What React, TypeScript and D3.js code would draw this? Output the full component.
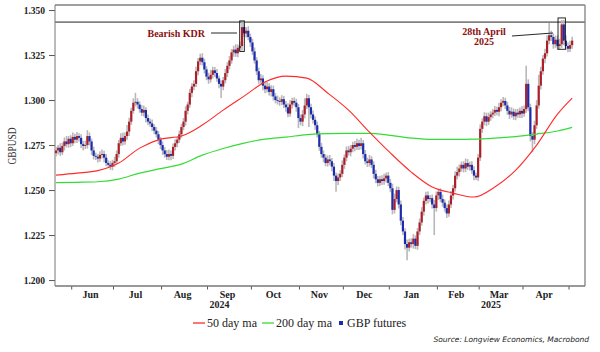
import React, { useEffect, useRef } from 'react';
import * as d3 from 'd3';

// GBP futures, daily (weekdays), 22 May 2024 .. 2 May 2025
const firstDay = '2024-05-22';
const lastDay = '2025-05-02';
const firstOpen = 1.2705;

const closes = [
  1.2720, 1.2735, 1.2710, 1.2745, 1.2770, 1.2755, 1.2785, 1.2760, 1.2795, 1.2780,
  1.2800, 1.2790, 1.2755, 1.2745, 1.2750, 1.2800, 1.2770, 1.2720, 1.2690, 1.2685,
  1.2675, 1.2695, 1.2700, 1.2680, 1.2650, 1.2640, 1.2630, 1.2650, 1.2660, 1.2700,
  1.2760, 1.2790, 1.2770, 1.2800, 1.2825, 1.2880, 1.2940, 1.2985, 1.2990, 1.2975,
  1.2950, 1.2930, 1.2945, 1.2900, 1.2880, 1.2870, 1.2850, 1.2830, 1.2810, 1.2780,
  1.2750, 1.2720, 1.2700, 1.2685, 1.2700, 1.2690, 1.2740, 1.2760, 1.2780, 1.2810,
  1.2850, 1.2880, 1.2940, 1.2975, 1.3040, 1.3075, 1.3090, 1.3160, 1.3215, 1.3235,
  1.3210, 1.3170, 1.3130, 1.3115, 1.3140, 1.3165, 1.3150, 1.3120, 1.3090, 1.3075,
  1.3110, 1.3150, 1.3190, 1.3220, 1.3265, 1.3280, 1.3260, 1.3290, 1.3300, 1.3405,
  1.3370, 1.3385, 1.3350, 1.3320, 1.3270, 1.3220, 1.3160, 1.3110, 1.3120, 1.3080,
  1.3060, 1.3075, 1.3045, 1.3060, 1.3020, 1.3000, 1.2995, 1.2990, 1.3005, 1.2975,
  1.2960, 1.2925, 1.2975, 1.2995, 1.2985, 1.2960, 1.2900, 1.2880, 1.2920, 1.2970,
  1.3010, 1.2960, 1.2920, 1.2890, 1.2860, 1.2810, 1.2740, 1.2700, 1.2680, 1.2650,
  1.2670, 1.2660, 1.2630, 1.2580, 1.2550, 1.2570, 1.2590, 1.2640, 1.2680, 1.2720,
  1.2710, 1.2730, 1.2750, 1.2740, 1.2760, 1.2745, 1.2760, 1.2700, 1.2660, 1.2650,
  1.2670, 1.2640, 1.2590, 1.2560, 1.2540, 1.2560, 1.2550, 1.2565, 1.2580, 1.2540,
  1.2510, 1.2390, 1.2450, 1.2500, 1.2420, 1.2330, 1.2270, 1.2200, 1.2180, 1.2210,
  1.2200, 1.2230, 1.2190, 1.2270, 1.2320, 1.2380, 1.2440, 1.2470, 1.2450, 1.2455,
  1.2420, 1.2400, 1.2470, 1.2490, 1.2450, 1.2430, 1.2400, 1.2370, 1.2420, 1.2470,
  1.2510, 1.2580, 1.2600, 1.2620, 1.2640, 1.2620, 1.2650, 1.2630, 1.2640, 1.2610,
  1.2580, 1.2570, 1.2680, 1.2840, 1.2880, 1.2910, 1.2880, 1.2905, 1.2920, 1.2930,
  1.2945, 1.2935, 1.2960, 1.2985, 1.2995, 1.2970, 1.2940, 1.2920, 1.2935, 1.2910,
  1.2930, 1.2920, 1.2940, 1.2925, 1.2950, 1.3090, 1.2960, 1.2800, 1.2780, 1.2860,
  1.2970, 1.3080, 1.3160, 1.3230, 1.3260, 1.3330, 1.3360, 1.3350, 1.3310, 1.3335,
  1.3300, 1.3310, 1.3420, 1.3330, 1.3300, 1.3285, 1.3305, 1.3330,
];

// shadow above / below the body, in pips
const wickUp = [
  20, 15, 25, 18, 22, 30, 15, 20, 25, 18, 22, 15, 20, 18, 25, 33, 20, 15, 22, 18,
  15, 20, 25, 18, 20, 15, 22, 18, 25, 20, 18, 25, 30, 20, 36, 22, 18, 25, 50, 20,
  18, 22, 25, 15, 20, 18, 22, 15, 20, 18, 15, 20, 18, 22, 25, 20, 18, 22, 15, 20,
  18, 20, 25, 15, 22, 18, 20, 25, 18, 22, 25, 20, 18, 22, 28, 20, 18, 22, 15, 20,
  18, 22, 20, 25, 18, 22, 30, 18, 25, 29, 35, 20, 25, 18, 20, 22, 18, 20, 25, 18,
  20, 25, 18, 22, 20, 18, 25, 20, 22, 18, 20, 22, 25, 18, 20, 22, 18, 20, 25, 40,
  25, 18, 20, 22, 18, 20, 18, 22, 20, 18, 22, 25, 18, 20, 18, 22, 20, 25, 18, 22,
  25, 20, 18, 22, 25, 20, 30, 18, 22, 20, 25, 18, 20, 22, 18, 20, 22, 25, 18, 20,
  22, 25, 30, 20, 18, 22, 20, 18, 25, 20, 22, 25, 18, 20, 22, 25, 18, 20, 22, 18,
  20, 25, 22, 18, 20, 25, 18, 20, 22, 25, 20, 25, 30, 22, 18, 20, 25, 22, 18, 20,
  22, 18, 20, 25, 18, 22, 20, 25, 18, 20, 22, 18, 25, 20, 22, 18, 20, 22, 25, 18,
  20, 22, 18, 25, 20, 100, 25, 20, 22, 25, 30, 60, 25, 20, 25, 30, 68, 25, 20, 22,
  25, 30, 25, 25, 30, 20, 25, 22,
];
const wickDown = [
  18, 22, 20, 15, 25, 18, 20, 22, 15, 20, 18, 20, 22, 25, 18, 20, 22, 25, 20, 18,
  22, 18, 20, 25, 18, 15, 18, 20, 22, 18, 20, 15, 22, 18, 20, 25, 18, 15, 20, 22,
  20, 18, 22, 25, 20, 18, 22, 20, 18, 25, 22, 25, 20, 18, 20, 25, 18, 20, 22, 18,
  20, 18, 22, 20, 18, 25, 20, 18, 22, 20, 18, 22, 20, 25, 18, 20, 22, 18, 25, 64,
  20, 18, 22, 20, 18, 25, 20, 22, 18, 25, 20, 22, 18, 25, 20, 18, 22, 20, 18, 25,
  22, 18, 20, 25, 22, 18, 20, 22, 18, 20, 25, 20, 18, 22, 20, 25, 56, 20, 25, 22,
  20, 110, 22, 20, 25, 18, 22, 20, 25, 18, 20, 22, 25, 30, 60, 22, 20, 18, 22, 20,
  18, 22, 20, 25, 18, 22, 20, 25, 18, 22, 20, 18, 25, 22, 20, 18, 22, 20, 25, 18,
  22, 25, 20, 18, 22, 25, 20, 30, 70, 22, 20, 25, 18, 22, 20, 18, 22, 20, 25, 18,
  22, 150, 20, 25, 18, 22, 20, 25, 18, 20, 22, 18, 20, 25, 18, 22, 20, 18, 22, 20,
  25, 14, 20, 18, 22, 20, 25, 18, 20, 22, 18, 20, 25, 22, 18, 20, 22, 25, 18, 20,
  22, 18, 20, 25, 18, 20, 22, 30, 70, 25, 20, 18, 22, 20, 25, 18, 20, 22, 25, 20,
  22, 18, 20, 25, 22, 20, 18, 20,
];

// moving averages, read every 10th trading day
const maDays = [0, 10, 20, 30, 40, 50, 60, 70, 80, 90, 100, 110, 120, 130, 140, 150, 160, 170, 180, 190, 200, 210, 220, 230, 240, 247];
const ma50 = [
  1.2583, 1.2594, 1.2608, 1.2650, 1.2733, 1.2783, 1.2800, 1.2861, 1.2944, 1.3022,
  1.3100, 1.3133, 1.3122, 1.3039, 1.2944, 1.2822, 1.2706, 1.2600, 1.2517, 1.2483,
  1.2461, 1.2517, 1.2611, 1.2750, 1.2922, 1.3011,
];
const ma200 = [
  1.2541, 1.2543, 1.2546, 1.2561, 1.2594, 1.2619, 1.2644, 1.2694, 1.2731, 1.2761,
  1.2783, 1.2794, 1.2808, 1.2814, 1.2815, 1.2815, 1.2804, 1.2789, 1.2781, 1.2781,
  1.2783, 1.2789, 1.2797, 1.2811, 1.2828, 1.2848,
];

const yTicks = [1.2, 1.225, 1.25, 1.275, 1.3, 1.325, 1.35];
const monthLabels = ['Jun', 'Jul', 'Aug', 'Sep', 'Oct', 'Nov', 'Dec', 'Jan', 'Feb', 'Mar', 'Apr'];
const yearLabels = ['2024', '2025'];
const yearUnder = ['Sep', 'Mar'];
const resistance = 1.3433;
const kdrDay = 89;
const aprilDays = [241, 242, 243];
const legendNames = ['50 day ma', '200 day ma', 'GBP futures'];

const W = 600;
const H = 352;
const left = 55, right = 585, top = 5, bottom = 286;
const UP = '#ad1f28';
const DOWN = '#1c2cb0';
const MA50_COL = '#ff2b2b';
const MA200_COL = '#35dc35';
const NOTE = '#8b1010';
const serif = '"Liberation Serif", "DejaVu Serif", serif';

const App = () => {
  const ref = useRef<SVGSVGElement>(null);

  useEffect(() => {
    const svg = d3.select(ref.current);
    svg.selectAll('*').remove();

    const parse = d3.timeParse('%Y-%m-%d');
    const days = d3.timeDay
      .range(parse(firstDay)!, d3.timeDay.offset(parse(lastDay)!, 1))
      .filter((d) => d.getDay() !== 0 && d.getDay() !== 6)
      .slice(0, closes.length);

    const bars = closes.map((c, i) => {
      const o = i === 0 ? firstOpen : closes[i - 1];
      const hiBody = Math.max(o, c);
      const loBody = Math.min(o, c);
      return { i, o, c, hi: hiBody + wickUp[i] / 10000, lo: loBody - wickDown[i] / 10000 };
    });

    const x = d3.scaleLinear().domain([-0.5, 253.15]).range([left, right]);
    const y = d3.scaleLinear().domain([1.1967, 1.3528]).range([bottom, top]);

    // y axis
    const yAxis = svg.append('g')
      .attr('transform', `translate(${left},0)`)
      .call(d3.axisLeft(y).tickValues(yTicks).tickFormat(d3.format('.3f')).tickSize(6).tickPadding(4));
    yAxis.select('.domain').remove();
    yAxis.selectAll('line').attr('stroke', '#555');
    yAxis.selectAll('text')
      .attr('font-family', serif)
      .attr('font-weight', 'bold')
      .attr('font-size', 9.5)
      .attr('fill', '#222');

    svg.append('text')
      .attr('transform', 'translate(16,146) rotate(-90)')
      .attr('text-anchor', 'middle')
      .attr('font-family', serif)
      .attr('font-size', 12)
      .attr('textLength', 37)
      .attr('lengthAdjust', 'spacingAndGlyphs')
      .attr('fill', '#333')
      .text('GBPUSD');

    // month ticks at month boundaries
    const bounds: number[] = [];
    days.forEach((d, i) => {
      if (i > 0 && d.getMonth() !== days[i - 1].getMonth()) bounds.push(i - 0.5);
    });
    svg.append('g').selectAll('line')
      .data(bounds)
      .join('line')
      .attr('x1', (b) => x(b)).attr('x2', (b) => x(b))
      .attr('y1', bottom).attr('y2', bottom + 3.5)
      .attr('stroke', '#555');

    const labelX = monthLabels.map((m, k) => (x(bounds[k]) + x(bounds[k + 1])) / 2 - 2);
    svg.append('g').selectAll('text')
      .data(monthLabels)
      .join('text')
      .attr('x', (m, k) => labelX[k])
      .attr('y', 298)
      .attr('text-anchor', 'middle')
      .attr('font-family', serif)
      .attr('font-weight', 'bold')
      .attr('font-size', 10)
      .attr('fill', '#222')
      .text((m) => m);
    svg.append('g').selectAll('text')
      .data(yearLabels)
      .join('text')
      .attr('x', (t, k) => labelX[monthLabels.indexOf(yearUnder[k])] - 8)
      .attr('y', 308)
      .attr('text-anchor', 'middle')
      .attr('font-family', serif)
      .attr('font-weight', 'bold')
      .attr('font-size', 10)
      .attr('fill', '#222')
      .text((t) => t);

    // frame
    svg.append('line').attr('x1', left).attr('x2', right).attr('y1', top).attr('y2', top)
      .attr('stroke', '#808080').attr('stroke-width', 1.7);
    svg.append('line').attr('x1', right).attr('x2', right).attr('y1', top).attr('y2', bottom)
      .attr('stroke', '#8a8a8a').attr('stroke-width', 1.4);
    svg.append('line').attr('x1', left).attr('x2', left).attr('y1', top).attr('y2', bottom)
      .attr('stroke', '#777').attr('stroke-width', 1);
    svg.append('line').attr('x1', left).attr('x2', right).attr('y1', bottom).attr('y2', bottom)
      .attr('stroke', '#777').attr('stroke-width', 1.5);

    // resistance
    svg.append('line')
      .attr('x1', left).attr('x2', right)
      .attr('y1', y(resistance)).attr('y2', y(resistance))
      .attr('stroke', '#808080').attr('stroke-width', 1.7);

    // candles
    const g = svg.append('g');
    g.selectAll('line.wick')
      .data(bars)
      .join('line')
      .attr('class', 'wick')
      .attr('x1', (d) => x(d.i)).attr('x2', (d) => x(d.i))
      .attr('y1', (d) => y(d.hi)).attr('y2', (d) => y(d.lo))
      .attr('stroke', '#b8b8b8')
      .attr('stroke-width', 1.6);
    g.selectAll('rect.body')
      .data(bars)
      .join('rect')
      .attr('class', 'body')
      .attr('x', (d) => x(d.i) - 1.1)
      .attr('width', 2.2)
      .attr('y', (d) => y(Math.max(d.o, d.c)))
      .attr('height', (d) => Math.max(0.9, y(Math.min(d.o, d.c)) - y(Math.max(d.o, d.c))))
      .attr('fill', (d) => (d.c >= d.o ? UP : DOWN));

    // moving averages
    const line = d3.line<number>()
      .x((v, k) => x(maDays[k]))
      .y((v) => y(v))
      .curve(d3.curveMonotoneX);
    svg.append('path').attr('d', line(ma200)).attr('fill', 'none')
      .attr('stroke', MA200_COL).attr('stroke-width', 1.2);
    svg.append('path').attr('d', line(ma50)).attr('fill', 'none')
      .attr('stroke', MA50_COL).attr('stroke-width', 1.1);

    // Bearish KDR
    const k = bars[kdrDay];
    const kx = x(kdrDay);
    svg.append('rect')
      .attr('x', kx - 2.3).attr('width', 4.6)
      .attr('y', y(k.hi) - 1).attr('height', y(k.lo) - y(k.hi) + 2)
      .attr('fill', 'none').attr('stroke', '#111').attr('stroke-width', 0.9);
    svg.append('line')
      .attr('x1', kx - 31).attr('x2', kx - 5)
      .attr('y1', 33).attr('y2', 33)
      .attr('stroke', '#111').attr('stroke-width', 0.9);
    svg.append('text')
      .attr('x', kx - 37).attr('y', 36.5)
      .attr('text-anchor', 'end')
      .attr('font-family', serif).attr('font-weight', 'bold').attr('font-size', 10)
      .attr('fill', NOTE)
      .text('Bearish KDR');

    // 28th April
    const ab = aprilDays.map((i) => bars[i]);
    const ax0 = x(aprilDays[0]) - 1.6;
    const ax1 = x(aprilDays[aprilDays.length - 1]) + 1.6;
    const ahi = y(d3.max(ab, (d) => d.hi)!) - 2;
    const alo = y(d3.min(ab, (d) => d.lo)!);
    svg.append('rect')
      .attr('x', ax0).attr('width', ax1 - ax0)
      .attr('y', ahi).attr('height', alo - ahi)
      .attr('fill', 'none').attr('stroke', '#111').attr('stroke-width', 0.9);
    svg.append('line')
      .attr('x1', ax0 - 46).attr('x2', ax0 - 5)
      .attr('y1', 36).attr('y2', 33)
      .attr('stroke', '#111').attr('stroke-width', 0.9);
    const note = svg.append('text')
      .attr('text-anchor', 'middle')
      .attr('font-family', serif).attr('font-weight', 'bold').attr('font-size', 10)
      .attr('fill', NOTE);
    note.append('tspan').attr('x', ax0 - 74).attr('y', 34.5).text('28th April');
    note.append('tspan').attr('x', ax0 - 74).attr('y', 44.5).text('2025');

    // legend
    const lg = svg.append('g').attr('font-family', serif).attr('font-size', 12).attr('fill', '#222');
    lg.append('line').attr('x1', 193).attr('x2', 205).attr('y1', 323).attr('y2', 323)
      .attr('stroke', MA50_COL).attr('stroke-width', 1.3);
    lg.append('text').attr('x', 207).attr('y', 327).text(legendNames[0]);
    lg.append('line').attr('x1', 262).attr('x2', 274).attr('y1', 323).attr('y2', 323)
      .attr('stroke', MA200_COL).attr('stroke-width', 1.3);
    lg.append('text').attr('x', 276).attr('y', 327).text(legendNames[1]);
    lg.append('rect').attr('x', 339).attr('y', 321).attr('width', 4).attr('height', 4).attr('fill', DOWN);
    lg.append('text').attr('x', 347).attr('y', 327).text(legendNames[2]);

    svg.append('text')
      .attr('x', 589).attr('y', 342)
      .attr('text-anchor', 'end')
      .attr('font-family', '"DejaVu Sans", sans-serif')
      .attr('font-style', 'italic')
      .attr('font-size', 7.5)
      .attr('fill', '#222')
      .text('Source: Longview Economics, Macrobond');
  }, []);

  return (
    <svg
      ref={ref}
      width={W}
      height={H}
      style={{ position: 'absolute', left: 0, top: 0, background: '#fff' }}
    />
  );
};

export default App;
